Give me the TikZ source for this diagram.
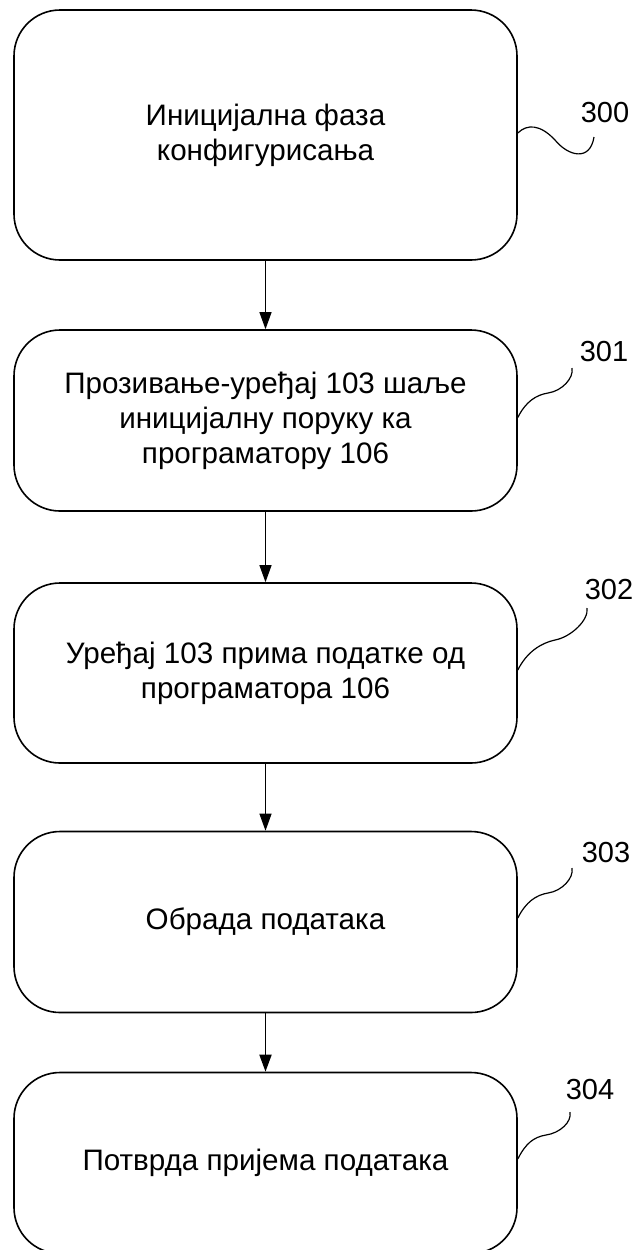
\documentclass[tikz,border=0pt]{standalone}
\usepackage{fontspec}
\setmainfont{Liberation Sans}
\usetikzlibrary{arrows.meta}
\begin{document}
\begin{tikzpicture}[x=0.5pt,y=-0.5pt,
  stepbox/.style={draw, line width=0.8pt, rounded corners=23pt, inner sep=0pt,
    minimum width=251.5pt, align=center, font=\fontsize{14.8pt}{17.5pt}\selectfont},
  reflabel/.style={inner sep=0pt, font=\fontsize{14.5pt}{17pt}\selectfont},
  flow/.style={line width=0.5pt, -{Triangle[length=8.5pt,width=6pt]}},
  leader/.style={line width=0.6pt}]
\useasboundingbox (0,0) rectangle (637,1250);
\node[stepbox, minimum height=125pt] (b0) at (265.5,135) {Иницијална фаза\\конфигурисања};
\node[stepbox, minimum height=90.5pt] (b1) at (265.5,420.5) {Прозивање-уређај 103 шаље\\иницијалну поруку ка\\програматору 106};
\node[stepbox, minimum height=90pt] (b2) at (265.5,673) {Уређај 103 прима податке од\\програматора 106};
\node[stepbox, minimum height=90.5pt] (b3) at (265.5,922) {Обрада података};
\node[stepbox, minimum height=90.5pt] (b4) at (265.5,1163) {Потврда пријема података};
\draw[flow] (b0) -- (b1);
\draw[flow] (b1) -- (b2);
\draw[flow] (b2) -- (b3);
\draw[flow, line width=0.9pt] (b3) -- (b4);
\node[reflabel] (l0) at (605,113) {300};
\node[reflabel] (l1) at (604,352) {301};
\node[reflabel] (l2) at (609,590) {302};
\node[reflabel] (l3) at (606,853) {303};
\node[reflabel] (l4) at (590,1090) {304};
\coordinate (e0) at (594,137);
\coordinate (e1) at (572,368);
\coordinate (m1) at (548,393);
\coordinate (e2) at (587,608);
\coordinate (m2) at (555,640);
\coordinate (e3) at (572,868);
\coordinate (m3) at (548,893);
\coordinate (e4) at (570,1112);
\coordinate (m4) at (546,1135);
\draw[leader] ([yshift=1pt]b0.east) .. controls (527,124) and (540,124) .. (555,140) .. controls (568,156) and (590,162) .. (e0);
\draw[leader] ([yshift=1.5pt]b1.east) .. controls +(8,-16) and +(-12,2) .. (m1) .. controls +(14,-2) and +(2,10) .. (e1);
\draw[leader] ([yshift=1.5pt]b2.east) .. controls +(9,-18) and +(-14,3) .. (m2) .. controls +(16,-3) and +(2,12) .. (e2);
\draw[leader] ([yshift=2pt]b3.east) .. controls +(8,-16) and +(-12,2) .. (m3) .. controls +(14,-2) and +(2,10) .. (e3);
\draw[leader] ([yshift=2pt]b4.east) .. controls +(8,-16) and +(-12,2) .. (m4) .. controls +(14,-2) and +(2,10) .. (e4);
\end{tikzpicture}
\end{document}
